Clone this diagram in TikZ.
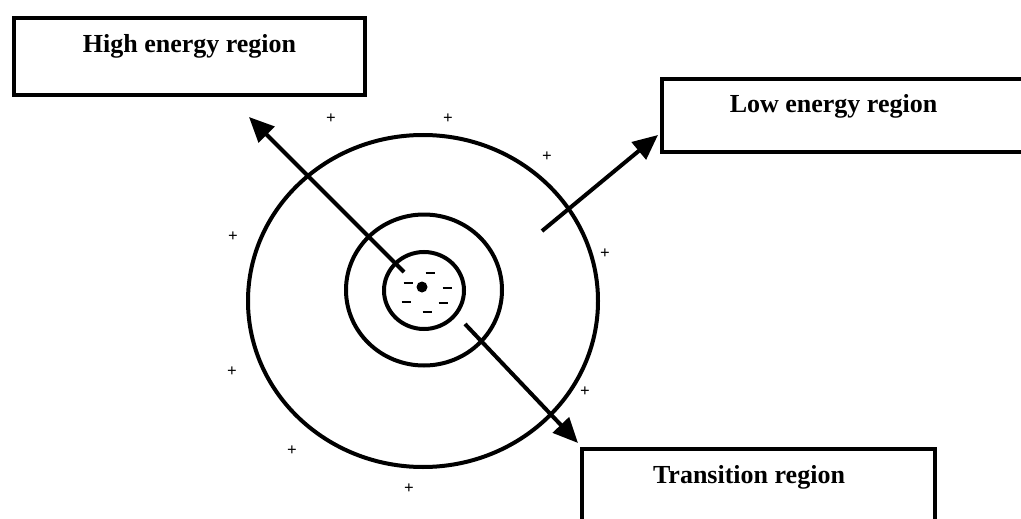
\documentclass[tikz,border=0pt]{standalone}
\usepackage{fontspec}
\setmainfont{Liberation Serif}
\usetikzlibrary{arrows.meta,shapes.geometric}
\begin{document}
\begin{tikzpicture}[x=1pt,y=-1pt,
  regionbox/.style={draw=black, line width=4pt, fill=white, inner sep=0pt, anchor=north west},
  lbl/.style={anchor=base, inner sep=0pt, font=\fontsize{26}{30}\selectfont\bfseries},
  ring/.style={draw=black, line width=4pt, ellipse, inner sep=0pt},
  arr/.style={line width=4pt, -{Triangle[length=25pt,width=22pt]}},
  plussign/.style={inner sep=0pt, font=\fontsize{17}{18}\selectfont\bfseries},
  minussign/.style={line width=2.8pt}
]
\useasboundingbox (0,0) rectangle (1021,519);
\fill[white] (0,0) rectangle (1021,519);

% rings
\node[ring, minimum width=350, minimum height=332] (outer) at (423,301) {};
\node[ring, minimum width=156, minimum height=151] (middle) at (424,290) {};
\node[ring, minimum width=80, minimum height=77] (inner) at (424,290.5) {};
\fill (422,287) circle[radius=5.5];

% minus signs
\foreach \mx/\my in {430/273, 408/283, 447/288, 406/302, 443/303, 427/312}
  \draw[minussign] (\mx-4.5,\my) -- (\mx+4.5,\my);

% plus signs
\foreach \px/\py [count=\i] in {331/119, 448/119, 547/157, 233/237, 605/254, 232/372, 585/392, 292/451, 409/489}
  \node[plussign] (plus\i) at (\px,\py) {+};

% boxes
\node[regionbox, minimum width=351, minimum height=77] (hbox) at (12,16) {};
\node[lbl] (htext) at (189.5,53) {High energy region};
\node[regionbox, minimum width=380, minimum height=73] (lbox) at (660,77) {};
\node[lbl] (ltext) at (833.5,113) {Low energy region};
\node[regionbox, minimum width=353, minimum height=110] (tbox) at (580,447) {};
\node[lbl] (ttext) at (749,483) {Transition region};

% arrows
\coordinate (htail) at (404,272);
\coordinate (htip) at (249,117);
\coordinate (ltail) at (542,231);
\coordinate (ltip) at (658,135);
\coordinate (ttail) at (465,324);
\coordinate (ttip) at (578,443);
\draw[arr] (htail) -- (htip);
\draw[arr] (ltail) -- (ltip);
\draw[arr] (ttail) -- (ttip);
\end{tikzpicture}
\end{document}
